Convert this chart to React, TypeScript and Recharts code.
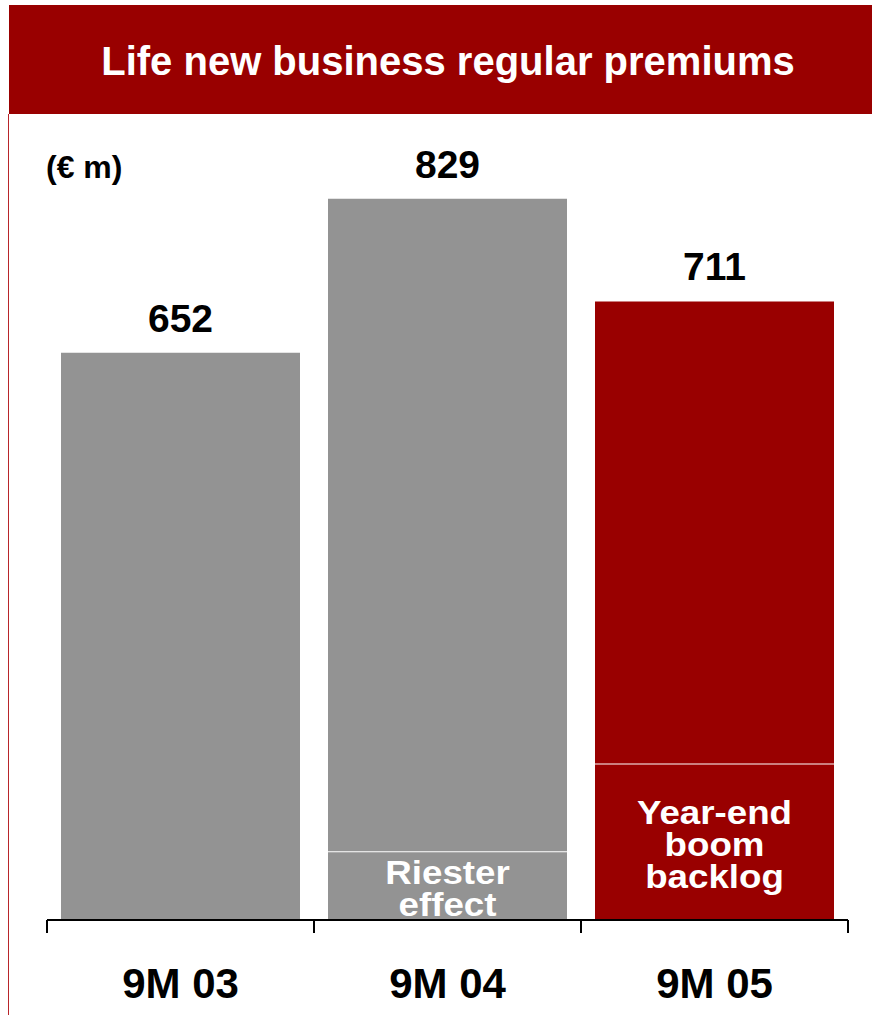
import { BarChart, Bar, XAxis, YAxis, Cell, LabelList } from 'recharts'

const periods = ['9M 03', '9M 04', '9M 05']
const totals = [652, 829, 711]
// bottom part of the bar that is called out separately
const specials = [0, 79, 180]
const specialNotes = ['', 'Riester\neffect', 'Year-end\nboom\nbacklog']

const barColors = ['#939393', '#939393', '#990000']

const FONT = '"Liberation Sans", Arial, Helvetica, sans-serif'
const W = 872
const H = 1015
const MARGIN = { top: 137, right: 24, left: 47, bottom: 0 }
const AXIS_Y = 920
const BAND = (W - MARGIN.left - MARGIN.right) / periods.length

const data = periods.map((period, i) => ({
  period,
  total: totals[i],
  special: specials[i],
  rest: totals[i] - specials[i],
  note: specialNotes[i],
}))

function SpecialShape(props: any) {
  const { x, y, width, height, payload } = props
  const i = periods.indexOf(payload.period)
  if (!height || height <= 0) return null
  return (
    <g>
      <rect x={x} y={y} width={width} height={height} fill={barColors[i]} />
      <line x1={x} x2={x + width} y1={y} y2={y} stroke="#fff" strokeWidth={2} />
    </g>
  )
}

function NoteLabel(props: any) {
  const { x, y, width, height, value } = props
  if (!value) return null
  const lines = String(value).split('\n')
  const lh = 32
  const cx = x + width / 2
  const cy = y + height / 2
  const first = cy - ((lines.length - 1) * lh) / 2
  // the original lettering is a bit wider than Liberation Sans
  return (
    <text
      x={cx}
      textAnchor="middle"
      fill="#fff"
      fontFamily={FONT}
      fontWeight="bold"
      fontSize={34}
      transform={`translate(${cx} 0) scale(1.08 1) translate(${-cx} 0)`}
    >
      {lines.map((l, k) => (
        <tspan key={k} x={cx} y={first + k * lh + 2} dominantBaseline="central">
          {l}
        </tspan>
      ))}
    </text>
  )
}

function TotalLabel(props: any) {
  const { x, y, width, value } = props
  return (
    <text
      x={x + width / 2}
      y={y - 21}
      textAnchor="middle"
      fill="#000"
      fontFamily={FONT}
      fontWeight="bold"
      fontSize={39}
    >
      {value}
    </text>
  )
}

function CategoryTick(props: any) {
  const { x, payload, index } = props
  const half = BAND / 2
  return (
    <g>
      <line x1={x - half} x2={x - half} y1={AXIS_Y} y2={AXIS_Y + 13} stroke="#000" strokeWidth={2} />
      {index === periods.length - 1 && (
        <line x1={x + half} x2={x + half} y1={AXIS_Y} y2={AXIS_Y + 13} stroke="#000" strokeWidth={2} />
      )}
      <text
        x={x}
        y={AXIS_Y + 78}
        textAnchor="middle"
        fill="#000"
        fontFamily={FONT}
        fontWeight="bold"
        fontSize={42}
      >
        {payload.value}
      </text>
    </g>
  )
}

export default function App() {
  return (
    <div
      style={{
        position: 'absolute',
        left: 0,
        top: 0,
        width: W,
        height: H,
        background: '#fff',
        fontFamily: FONT,
        overflow: 'hidden',
      }}
    >
      <div
        style={{
          position: 'absolute',
          left: 9,
          top: 5,
          width: W - 9,
          height: 109,
          background: '#990000',
          color: '#fff',
          fontWeight: 'bold',
          fontSize: 40,
          display: 'flex',
          alignItems: 'center',
          justifyContent: 'center',
          boxSizing: 'border-box',
          paddingLeft: 15,
          paddingTop: 4,
        }}
      >
        Life new business regular premiums
      </div>
      <div
        style={{
          position: 'absolute',
          left: 8,
          top: 114,
          width: 1,
          height: H - 114,
          background: '#b8252a',
        }}
      />
      <div
        style={{
          position: 'absolute',
          left: 46,
          top: 149,
          fontSize: 32,
          fontWeight: 'bold',
          lineHeight: '36px',
          color: '#000',
          zIndex: 1,
        }}
      >
        (€ m)
      </div>
      <div style={{ position: 'absolute', left: 0, top: 0 }}>
        <BarChart width={W} height={H} data={data} margin={MARGIN} barSize={239}>
          <XAxis
            dataKey="period"
            height={95}
            interval={0}
            tickLine={false}
            axisLine={{ stroke: '#000', strokeWidth: 2 }}
            tick={<CategoryTick />}
          />
          <YAxis hide domain={[0, 900]} />
          <Bar dataKey="special" stackId="a" shape={<SpecialShape />} isAnimationActive={false}>
            <LabelList dataKey="note" content={<NoteLabel />} />
          </Bar>
          <Bar dataKey="rest" stackId="a" isAnimationActive={false}>
            {data.map((d, i) => (
              <Cell key={d.period} fill={barColors[i]} />
            ))}
            <LabelList dataKey="total" content={<TotalLabel />} />
          </Bar>
        </BarChart>
      </div>
    </div>
  )
}
